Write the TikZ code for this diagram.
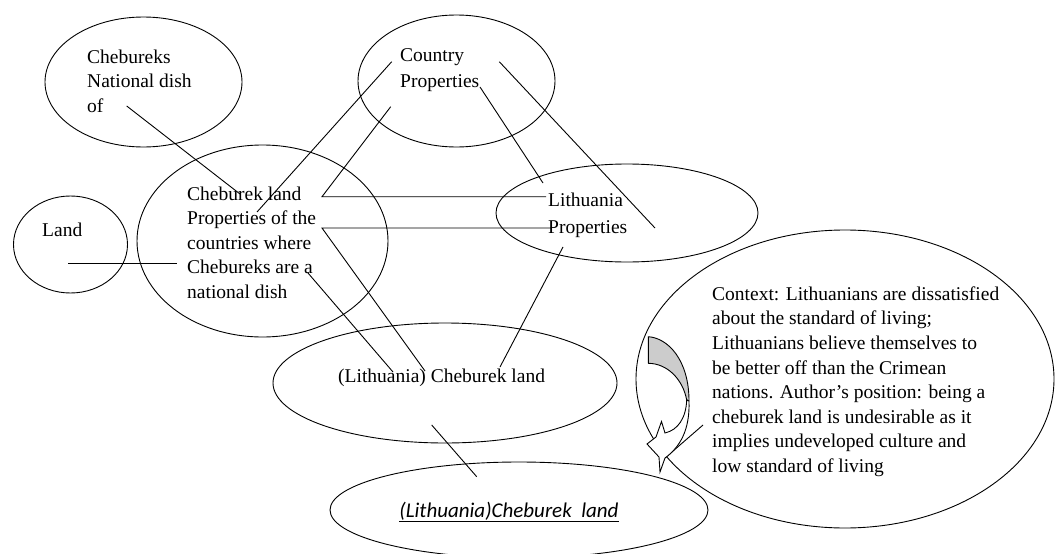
\documentclass[tikz,border=0pt]{standalone}
\usepackage{fontspec}
\setmainfont{Liberation Serif}
\newfontfamily\calibrifont{Carlito}
\usetikzlibrary{shapes.geometric}

\begin{document}
\begin{tikzpicture}[x=1pt,y=-1pt,
  oval/.style args={#1/#2}{draw, ellipse, line width=0.9pt, inner sep=0pt,
    outer sep=0pt, minimum width=#1pt, minimum height=#2pt},
  txt/.style={anchor=north west, inner sep=0pt, align=left,
    font=\fontsize{19.5}{#1}\selectfont},
  txt/.default=24.5,
  link/.style={draw, line width=0.9pt},
  bandback/.style={draw, line width=0.9pt, fill=black!20, line join=round},
  bandfront/.style={draw, line width=0.9pt, fill=white, line join=miter}]

\useasboundingbox (0,0) rectangle (1055,554);
\fill[white] (0,0) rectangle (1055,554);

% ovals
\node[oval=197/130] (dish)    at (143.5,82)  {};
\node[oval=197/132] (country) at (456.5,81)  {};
\node[oval=251/192] (cland)   at (262.5,241) {};
\node[oval=114/97]  (land)    at (70.5,244.5) {};
\node[oval=262/98]  (lprop)   at (627,213)   {};
\node[oval=344/120] (lcland)  at (445,383)   {};
\node[oval=378/96]  (bottom)  at (519,510)   {};
\node[oval=418/298] (context) at (845,379)   {};

% labels
\node[txt] (dishtext) at (87,45.85) {\strut Chebureks\\National dish\\of};
\node[txt=25.7] (countrytext) at (400,43.5) {\strut Country\\Properties};
\node[txt] (clandtext) at (187,182.85)
  {\strut Cheburek land\\Properties of the\\countries where\\Chebureks are a\\national dish};
\node[txt] (landtext) at (42,218.85) {\strut Land};
\node[txt=27] (lproptext) at (548,187.1) {\strut Lithuania\\Properties};
\node[txt] (lclandtext) at (338,364.85) {\strut (Lithuania) Cheburek land};
\node[txt=24.6] (contexttext) at (712,282.78)
  {\strut Context: Lithuanians are dissatisfied\\
   about the standard of living;\\
   Lithuanians believe themselves to\\
   be better off than the Crimean\\
   nations. Author’s position: being a\\
   cheburek land is undesirable as it\\
   implies undeveloped culture and\\
   low standard of living};
\node[anchor=base, inner sep=0pt, font=\calibrifont\itshape\fontsize{21}{25}\selectfont]
  (bottomtext) at (509,517) {\underline{(Lithuania)Cheburek\hspace{0.45em}land}};

% connector end points
\coordinate (of-end)   at (126.7,106);
\coordinate (cl-k)     at (240,194);
\coordinate (cty-w)    at (391.7,61.7);
\coordinate (prop-ie)  at (257,212);
\coordinate (cty-sw)   at (390.7,106.7);
\coordinate (cl-e)     at (322,196.7);
\coordinate (lit-w)    at (546,196.7);
\coordinate (pot-e)    at (322,228);
\coordinate (lpr-w)    at (551,228);
\coordinate (lcl-a)    at (425,371);
\coordinate (area)     at (308,273);
\coordinate (lcl-l)    at (393,372);
\coordinate (cty-prop) at (480,87);
\coordinate (lit-n)    at (543,183);
\coordinate (cty-e)    at (499.3,61.7);
\coordinate (lpr-e)    at (655,228);
\coordinate (lpr-s)    at (563,247);
\coordinate (lcl-k)    at (500,367);
\coordinate (land-c)   at (68.3,263.3);
\coordinate (cl-w)     at (176.7,263.3);
\coordinate (lcl-s)    at (431.7,425);
\coordinate (bot-n)    at (476.7,476.7);
\coordinate (ctx-w)    at (703,425);
\coordinate (arr-tip)  at (665,458);

% connectors
\path[link] (of-end) -- (cl-k);
\path[link] (cty-w) -- (prop-ie);
\path[link] (cty-sw) -- (cl-e) -- (lit-w);
\path[link] (lpr-w) -- (pot-e) -- (lcl-a);
\path[link] (area) -- (lcl-l);
\path[link] (cty-prop) -- (lit-n);
\path[link] (cty-e) -- (lpr-e);
\path[link] (lpr-s) -- (lcl-k);
\path[link] (land-c) -- (cl-w);
\path[link] (lcl-s) -- (bot-n);
\path[link] (ctx-w) -- (arr-tip);

% curved block arrow: shaded back of the band
\path[bandback] (648.3,336.7) .. controls (668,338) and (689,360) .. (689,401)
  -- (686.7,400) .. controls (683,380) and (668,363.5) .. (648.3,363.3) -- cycle;
% front of the band with its head
\path[bandfront] (686.7,400) .. controls (686,418) and (678,430) .. (665,433)
  -- (661.5,421.5) -- (656,437) -- (647,444) -- (659,457) -- (660,472)
  -- (665,458) .. controls (680,447) and (690,430) .. (689,401) -- cycle;

\end{tikzpicture}
\end{document}
